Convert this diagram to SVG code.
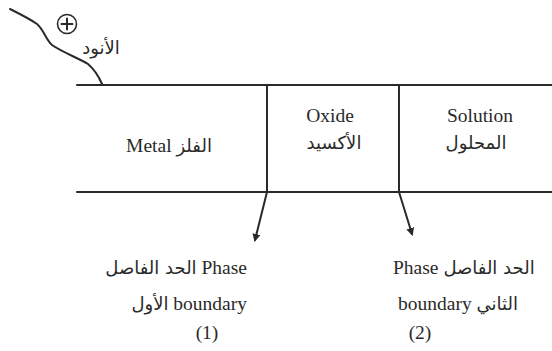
<svg xmlns="http://www.w3.org/2000/svg" width="552" height="351" viewBox="0 0 552 351">
<style>
.ln{stroke:#2a2a2a;stroke-width:2;fill:none;stroke-linecap:round;stroke-linejoin:round}
.t{font-family:"Liberation Serif","DejaVu Serif",serif;font-size:19.5px;fill:#2a2a2a}
.a{font-family:"DejaVu Sans","Noto Sans",sans-serif;font-size:18px;fill:#2a2a2a}
</style>
<defs>
<marker id="ah" markerWidth="8" markerHeight="8" refX="6" refY="4" orient="auto" markerUnits="userSpaceOnUse">
<path d="M0,0 L8,4 L0,8 Z" fill="#2a2a2a"/>
</marker>
</defs>
<g id="anode">
<path class="ln" d="M10,9 C20,14 30,19 37,24 C44,30 46,40 52,45 C62,52 78,58 88,64 C95,70 99,77 102,84"/>
<circle cx="67" cy="24" r="9.5" fill="none" stroke="#2a2a2a" stroke-width="1.6"/>
<path class="ln" d="M61.5,24 H72.5 M67,18.5 V29.5" stroke-width="1.6"/>
<text class="a" x="101" y="54" text-anchor="middle">الأنود</text>
</g>
<g id="frame">
<line class="ln" x1="77" y1="85" x2="552" y2="85"/>
<line class="ln" x1="77" y1="192" x2="552" y2="192"/>
</g>
<g id="metal">
<text class="t" x="169" y="152" text-anchor="middle">Metal <tspan class="a">الفلز</tspan></text>
</g>
<g id="oxide">
<text class="t" x="330" y="122" text-anchor="middle">Oxide</text>
<text class="a" x="334" y="149" text-anchor="middle">الأكسيد</text>
</g>
<g id="solution">
<text class="t" x="480" y="122" text-anchor="middle">Solution</text>
<text class="a" x="476" y="149" text-anchor="middle">المحلول</text>
</g>
<g id="connectors">
<path class="ln" d="M267,85 V192 L255,240" marker-end="url(#ah)"/>
<path class="ln" d="M399,85 V192 L412,234" marker-end="url(#ah)"/>
</g>
<g id="boundary1">
<text class="t" x="247" y="274" text-anchor="end"><tspan class="a">الحد الفاصل</tspan> Phase</text>
<text class="t" x="247" y="310" text-anchor="end"><tspan class="a">الأول</tspan> boundary</text>
<text class="t" x="207" y="339" text-anchor="middle">(1)</text>
</g>
<g id="boundary2">
<text class="t" x="393" y="274">Phase <tspan class="a">الحد الفاصل</tspan></text>
<text class="t" x="398" y="310">boundary <tspan class="a">الثاني</tspan></text>
<text class="t" x="420" y="339" text-anchor="middle">(2)</text>
</g>
</svg>
